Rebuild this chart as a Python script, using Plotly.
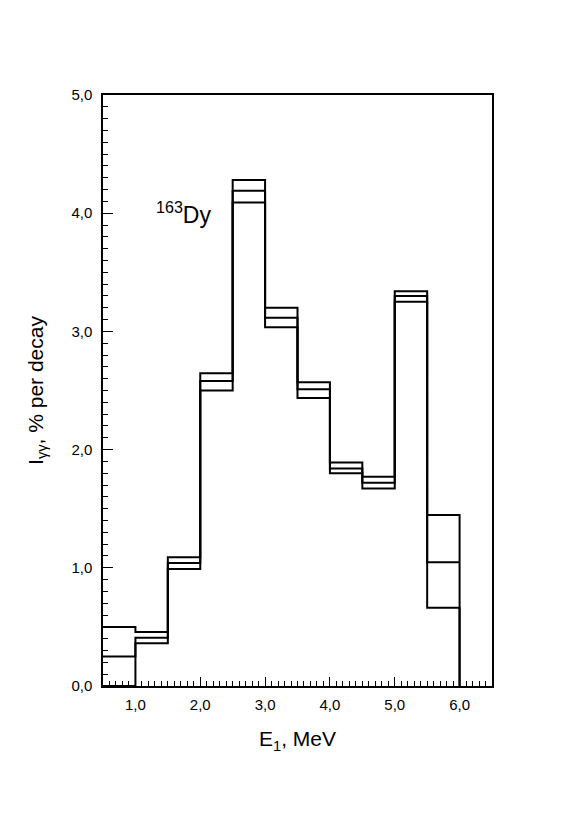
import plotly.graph_objects as go

# Bin edges (MeV) and intensities (% per decay)
bin_edges = [0.5, 1.0, 1.5, 2.0, 2.5, 3.0, 3.5, 4.0, 4.5, 5.0, 5.5, 6.0]
upper = [0.50, 0.457, 1.09, 2.645, 4.28, 3.20, 2.57, 1.89, 1.77, 3.34, 1.447]
central = [0.25, 0.409, 1.04, 2.58, 4.19, 3.116, 2.51, 1.84, 1.72, 3.30, 1.046]
lower = [0.0, 0.361, 0.99, 2.50, 4.09, 3.035, 2.437, 1.80, 1.67, 3.25, 0.662]

x_ticks = [1, 2, 3, 4, 5, 6]
x_ticklabels = ["1,0", "2,0", "3,0", "4,0", "5,0", "6,0"]
y_ticks = [0, 1, 2, 3, 4, 5]
y_ticklabels = ["0,0", "1,0", "2,0", "3,0", "4,0", "5,0"]


def step_xy(vals, close=False):
    xs, ys = [], []
    for i, v in enumerate(vals):
        xs += [bin_edges[i], bin_edges[i + 1]]
        ys += [v, v]
    if close:
        xs.append(bin_edges[-1])
        ys.append(0)
    return xs, ys


fig = go.Figure()
for vals, close in [(upper, True), (central, False), (lower, True)]:
    xs, ys = step_xy(vals, close)
    fig.add_trace(go.Scatter(x=xs, y=ys, mode="lines",
                             line=dict(color="black", width=2),
                             showlegend=False, hoverinfo="skip"))

fig.add_annotation(x=1.74, y=4.0, text="<sup>163</sup>Dy", showarrow=False,
                   font=dict(size=23, color="black", family="Liberation Sans, Arial"),
                   xref="x", yref="y")

fig.update_layout(
    width=572, height=823,
    margin=dict(l=95, r=88, t=87, b=145),
    paper_bgcolor="white", plot_bgcolor="white",
    font=dict(family="Liberation Sans, Arial", color="black"),
    xaxis=dict(range=[0.5, 6.5], tickvals=x_ticks, ticktext=x_ticklabels,
               ticks="inside", ticklen=9, tickwidth=1, tickcolor="black",
               minor=dict(dtick=0.1, ticks="inside", ticklen=5, tickcolor="black", tickwidth=1),
               showgrid=False, zeroline=False, showline=True, linecolor="black",
               linewidth=1.5, mirror=True, tickfont=dict(size=15),
               ticklabelstandoff=4,
               title=dict(text="E<sub>1</sub>, MeV", font=dict(size=21), standoff=20)),
    yaxis=dict(range=[0, 5], tickvals=y_ticks, ticktext=y_ticklabels,
               ticks="inside", ticklen=10, tickwidth=1, tickcolor="black",
               minor=dict(dtick=0.1, ticks="inside", ticklen=5, tickcolor="black", tickwidth=1),
               showgrid=False, zeroline=False, showline=True, linecolor="black",
               linewidth=1.5, mirror=True, tickfont=dict(size=15),
               ticklabelstandoff=6,
               title=dict(text="I<sub>γγ</sub>, % per decay", font=dict(size=21), standoff=22)),
)

fig.write_html("out.html")
